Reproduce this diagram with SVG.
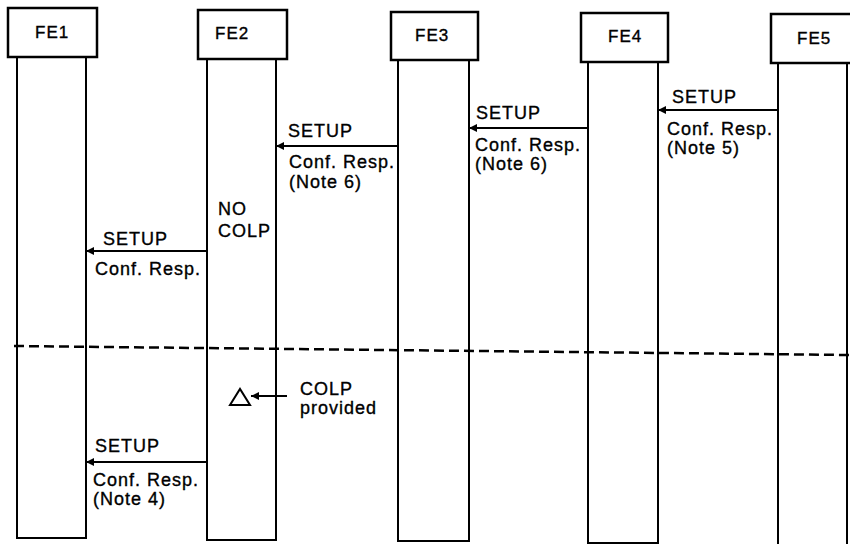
<svg xmlns="http://www.w3.org/2000/svg" width="850" height="544" viewBox="0 0 850 544">
<style>
.box{fill:#fff;stroke:#000;stroke-width:2.5}
.col{fill:none;stroke:#000;stroke-width:2}
.t{font-family:"Liberation Sans",Arial,sans-serif;font-size:18px;letter-spacing:1px;fill:#000;stroke:#000;stroke-width:0.35}
.hd{font-family:"Liberation Sans",Arial,sans-serif;font-size:17px;letter-spacing:1px;fill:#000;stroke:#000;stroke-width:0.35}
.msg{stroke:#000;stroke-width:2;fill:none;marker-end:url(#ah)}
</style>
<defs>
<marker id="ah" viewBox="0 0 10 10" refX="10" refY="5" markerWidth="10" markerHeight="8" markerUnits="userSpaceOnUse" orient="auto">
<path d="M0,0 L10,5 L0,10 z" fill="#000"/>
</marker>
</defs>
<rect width="850" height="544" fill="#fff"/>
<g id="FE1">
<rect class="col" x="17" y="57" width="69" height="481"/>
<rect class="box" x="8" y="8" width="89" height="49"/>
<text class="hd" x="35" y="38">FE1</text>
</g>
<g id="FE2">
<rect class="col" x="207" y="59" width="69" height="481"/>
<rect class="box" x="198" y="10" width="89" height="49"/>
<text class="hd" x="215" y="39">FE2</text>
</g>
<g id="FE3">
<rect class="col" x="398" y="60" width="71" height="481"/>
<rect class="box" x="391" y="12" width="87" height="48"/>
<text class="hd" x="415" y="41">FE3</text>
</g>
<g id="FE4">
<rect class="col" x="588" y="62" width="70" height="481"/>
<rect class="box" x="581" y="13" width="87" height="49"/>
<text class="hd" x="608" y="42">FE4</text>
</g>
<g id="FE5">
<rect class="col" x="778" y="63" width="69" height="490"/>
<rect class="box" x="771" y="14" width="90" height="49"/>
<text class="hd" x="797" y="44">FE5</text>
</g>
<g id="separator">
<line x1="14" y1="346" x2="850" y2="355" stroke="#000" stroke-width="2.5" stroke-dasharray="10 5"/>
</g>
<g id="connectors">
<line class="msg" x1="778" y1="110" x2="658" y2="110"/>
<line class="msg" x1="588" y1="128" x2="469" y2="128"/>
<line class="msg" x1="398" y1="146" x2="276" y2="146"/>
<line class="msg" x1="207" y1="251" x2="86" y2="251"/>
<line class="msg" x1="287" y1="396" x2="251" y2="396"/>
<line class="msg" x1="207" y1="462" x2="86" y2="462"/>
</g>
<g id="labels">
<text class="t" x="672" y="103">SETUP</text>
<text class="t" x="667" y="135">Conf. Resp.</text>
<text class="t" x="667" y="154">(Note 5)</text>
<text class="t" x="476" y="119">SETUP</text>
<text class="t" x="475" y="151">Conf. Resp.</text>
<text class="t" x="475" y="170">(Note 6)</text>
<text class="t" x="288" y="137">SETUP</text>
<text class="t" x="289" y="168">Conf. Resp.</text>
<text class="t" x="289" y="188">(Note 6)</text>
<text class="t" x="218" y="215">NO</text>
<text class="t" x="218" y="237">COLP</text>
<text class="t" x="103" y="245">SETUP</text>
<text class="t" x="95" y="275">Conf. Resp.</text>
<text class="t" x="300" y="395">COLP</text>
<text class="t" x="300" y="414">provided</text>
<text class="t" x="95" y="452">SETUP</text>
<text class="t" x="93" y="486">Conf. Resp.</text>
<text class="t" x="93" y="505">(Note 4)</text>
</g>
<g id="triangle">
<polygon points="230,405 240,389 250,405" fill="none" stroke="#000" stroke-width="2"/>
</g>
</svg>
